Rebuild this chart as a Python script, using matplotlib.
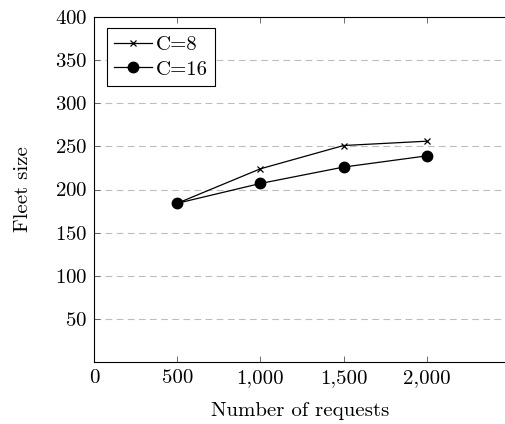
import matplotlib.pyplot as plt

# data
requests = [500, 1000, 1500, 2000]
fleet_c8 = [184, 224, 251, 256]
fleet_c16 = [184, 207, 226, 239]
y_ticks = [50, 100, 150, 200, 250, 300, 350, 400]
x_ticks = [0, 500, 1000, 1500, 2000]
x_labels = ['0', '500', '1,000', '1,500', '2,000']

plt.rcParams['font.family'] = 'cmr10'
plt.rcParams['axes.formatter.use_mathtext'] = True

fs = 15
fig = plt.figure(figsize=(5.06, 4.24), dpi=100)
ax = fig.add_axes([94 / 506, 62 / 424, 1 - 94 / 506, 345 / 424])

ax.plot(requests, fleet_c8, color='black', lw=0.9, marker='x', ms=5, mew=0.9, label='C=8')
ax.plot(requests, fleet_c16, color='black', lw=0.9, marker='o', ms=7.5, label='C=16')

ax.set_xlim(0, 2476)
ax.set_ylim(0, 400)
ax.set_xticks(x_ticks)
ax.set_xticklabels(x_labels)
ax.set_yticks(y_ticks)

for y in y_ticks[:-1]:
    ax.axhline(y, color='#bdbdbd', lw=0.8, ls=(0, (6, 4)), zorder=0)

ax.tick_params(direction='in', length=4, width=0.6, color='#555555', top=True,
               labelsize=fs, pad=5)
ax.spines['right'].set_visible(False)
for s in ['left', 'top', 'bottom']:
    ax.spines[s].set_linewidth(0.8)

ax.set_xlabel('Number of requests', fontsize=fs, labelpad=11)
ax.set_ylabel('Fleet size', fontsize=fs, labelpad=16)

leg = ax.legend(loc='upper left', fontsize=fs, fancybox=False, edgecolor='black',
                framealpha=1, handlelength=1.8, borderpad=0.35, labelspacing=0.3,
                handletextpad=0.2, borderaxespad=0,
                bbox_to_anchor=(13 / 412, 334 / 345))
leg.get_frame().set_linewidth(0.8)

fig.savefig('out.png', dpi=100)
